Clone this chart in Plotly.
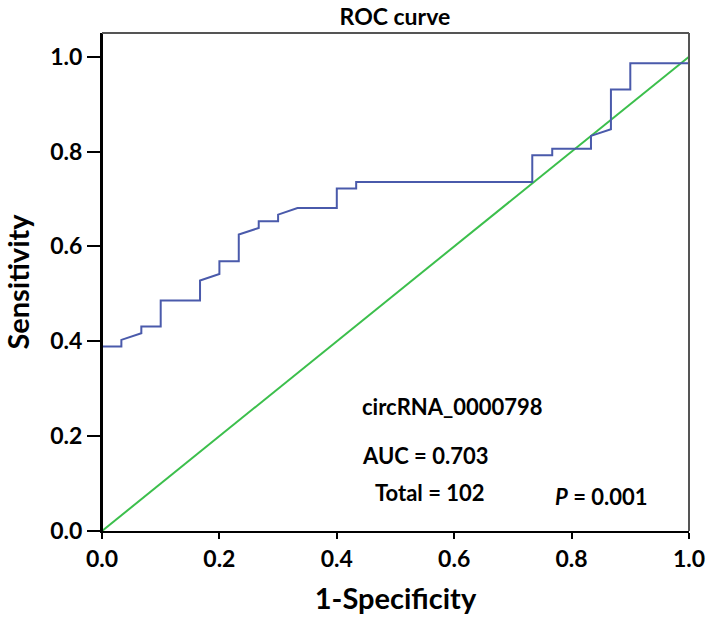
import plotly.graph_objects as go

# ROC curve vertices (1-Specificity, Sensitivity)
fpr = [0.0, 0.0, 0.033, 0.033, 0.067, 0.067, 0.1, 0.1, 0.167, 0.167, 0.2, 0.2,
       0.233, 0.233, 0.267, 0.267, 0.3, 0.3, 0.333, 0.4, 0.4, 0.433, 0.433,
       0.733, 0.733, 0.767, 0.767, 0.833, 0.833, 0.867, 0.867, 0.9, 0.9, 1.0, 1.0]
tpr = [0.0, 0.389, 0.389, 0.403, 0.417, 0.431, 0.431, 0.486, 0.486, 0.528, 0.542, 0.569,
       0.569, 0.625, 0.639, 0.653, 0.653, 0.667, 0.681, 0.681, 0.722, 0.722, 0.736,
       0.736, 0.792, 0.792, 0.806, 0.806, 0.833, 0.847, 0.931, 0.931, 0.986, 0.986, 1.0]
ref_x = [0.0, 1.0]
ref_y = [0.0, 1.0]
tick_vals = [0.0, 0.2, 0.4, 0.6, 0.8, 1.0]
tick_text = ["0.0", "0.2", "0.4", "0.6", "0.8", "1.0"]

FONT = "Lato"

fig = go.Figure()
fig.add_trace(go.Scatter(x=ref_x, y=ref_y, mode="lines",
                         line=dict(color="#3cbf4c", width=2), showlegend=False))
fig.add_trace(go.Scatter(x=fpr, y=tpr, mode="lines",
                         line=dict(color="#4a5aab", width=2), showlegend=False))

axis_common = dict(showgrid=False, zeroline=False, showline=True, linecolor="black",
                   linewidth=2, ticks="outside", tickwidth=2, tickcolor="black",
                   tickvals=tick_vals, ticktext=tick_text, automargin=False,
                   layer="above traces",
                   tickfont=dict(family=FONT, size=23, color="black", weight="bold"))

fig.update_layout(
    width=709, height=619,
    margin=dict(l=102, r=20, t=33, b=88),
    paper_bgcolor="white", plot_bgcolor="white",
    title=dict(text="ROC curve", x=0.557, xanchor="center", y=0.972, yanchor="middle",
               font=dict(family=FONT, size=23, color="black", weight="bold")),
    xaxis=dict(range=[0, 1.0], ticklen=6,
               title=dict(text="1-Specificity", standoff=18,
                          font=dict(family=FONT, size=29, color="black", weight="bold")),
               **axis_common),
    yaxis=dict(range=[0, 1.05], ticklen=13,
               title=dict(text="Sensitivity", standoff=14,
                          font=dict(family=FONT, size=29, color="black", weight="bold")),
               **axis_common),
    shapes=[
        dict(type="line", xref="paper", yref="paper", x0=0, x1=0, y0=0, y1=1,
             line=dict(color="black", width=2), layer="above"),
        dict(type="line", xref="paper", yref="paper", x0=0, x1=1, y0=1, y1=1,
             line=dict(color="#555555", width=2)),
        dict(type="line", xref="paper", yref="paper", x0=1, x1=1, y0=0, y1=1,
             line=dict(color="#555555", width=2)),
    ],
)

ann_font = dict(family=FONT, size=22, color="black", weight="bold")
fig.add_annotation(x=0.44, y=0.262, text="circRNA_0000798", showarrow=False,
                   xanchor="left", yanchor="middle", font=ann_font)
fig.add_annotation(x=0.44, y=0.16, text="AUC = 0.703", showarrow=False,
                   xanchor="left", yanchor="middle", font=ann_font)
fig.add_annotation(x=0.462, y=0.082, text="Total = 102", showarrow=False,
                   xanchor="left", yanchor="middle", font=ann_font)
fig.add_annotation(x=0.768, y=0.072, text="<i>P</i> = 0.001", showarrow=False,
                   xanchor="left", yanchor="middle", font=ann_font)

fig.write_html("out.html", config={"displayModeBar": False},
               post_script="document.body.style.margin='0px';")
